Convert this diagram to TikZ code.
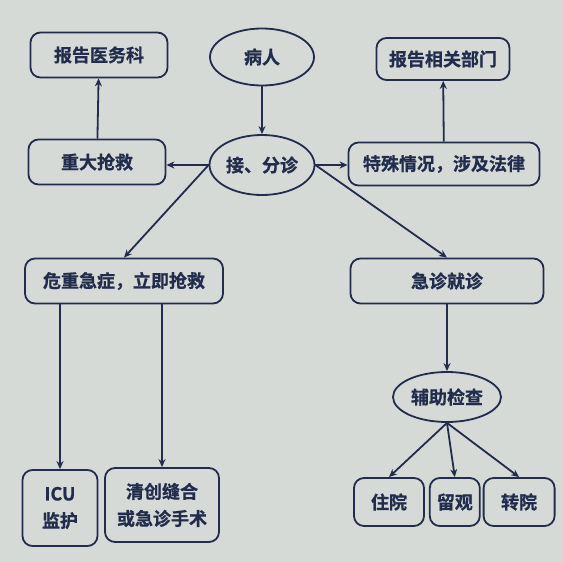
\documentclass[tikz,border=0pt]{standalone}
\usepackage{fontspec}
\setmainfont{Noto Sans CJK SC}
\newfontfamily\cjkbold{Noto Sans CJK SC Bold}[FakeBold=0.8]
\usetikzlibrary{shapes.geometric,positioning,arrows.meta}
\definecolor{navy}{RGB}{34,44,76}
\definecolor{paper}{RGB}{214,218,215}
\begin{document}
\begin{tikzpicture}[x=1pt, y=-1pt,
        block/.style={rectangle, draw=navy, line width=1.8pt, rounded corners=10pt, text=navy, font=\cjkbold\fontsize{18}{27}\selectfont, align=center, inner sep=2pt},
        oval/.style={ellipse, draw=navy, line width=1.8pt, text=navy, font=\cjkbold\fontsize{18}{27}\selectfont, inner sep=0pt},
        line/.style={draw=navy, -{Stealth[length=8pt, width=7pt]}, line width=1.8pt}]
        \fill [paper] (0,0) rectangle (563,562);
        
        \node [oval, minimum width=104pt, minimum height=57pt] (bingren) at (262,57) {病人};
        \node [oval, minimum width=105pt, minimum height=60pt] (fenzhen) at (262,165) {接、分诊};
        \node [block, minimum width=137pt, minimum height=45pt] (yiwuke) at (99,55) {报告医务科};
        \node [block, minimum width=133pt, minimum height=42pt] (bumen) at (443,59) {报告相关部门};
        \node [block, minimum width=137pt, minimum height=45pt] (qiangjiu) at (97,162) {重大抢救};
        \node [block, minimum width=191pt, minimum height=43pt] (teshu) at (444,164) {特殊情况，涉及法律};
        \node [block, minimum width=198pt, minimum height=45pt] (weizhong) at (124,281) {危重急症，立即抢救};
        \node [block, minimum width=193pt, minimum height=45pt] (jizhen) at (447,281) {急诊就诊};
        \node [oval, minimum width=108pt, minimum height=50pt] (fuzhu) at (447,397) {辅助检查};
        \node [block, minimum width=75pt, minimum height=76pt] (icu) at (60,508) {ICU\\监护};
        \node [block, minimum width=114pt, minimum height=74pt] (qingchuang) at (162,505) {清创缝合\\或急诊手术};
        \node [block, minimum width=70pt, minimum height=48pt] (zhuyuan) at (389,502) {住院};
        \node [block, minimum width=50pt, minimum height=48pt, right=4pt of zhuyuan] (liuguan) {留观};
        \node [block, minimum width=71pt, minimum height=48pt, right=2pt of liuguan] (zhuanyuan) {转院};
        
        \path [line] (bingren) -- (fenzhen);
        \path [line] (qiangjiu) -- (yiwuke);
        \path [line] (teshu) -- (bumen);
        \path [line] (fenzhen.west) -- (fenzhen.west -| qiangjiu.east);
        \path [line] (fenzhen.east) -- (fenzhen.east -| teshu.west);
        \path [line] (fenzhen.west) -- (weizhong.north);
        \path [line] (fenzhen.east) -- (jizhen.north);
        \path [line] (weizhong.south -| icu) -- (icu);
        \path [line] (weizhong.south -| qingchuang) -- (qingchuang);
        \path [line] (jizhen) -- (fuzhu);
        \foreach \n in {zhuyuan, liuguan, zhuanyuan}
            \path [line] (fuzhu.south) -- (\n.north);
    \end{tikzpicture}
\end{document}
